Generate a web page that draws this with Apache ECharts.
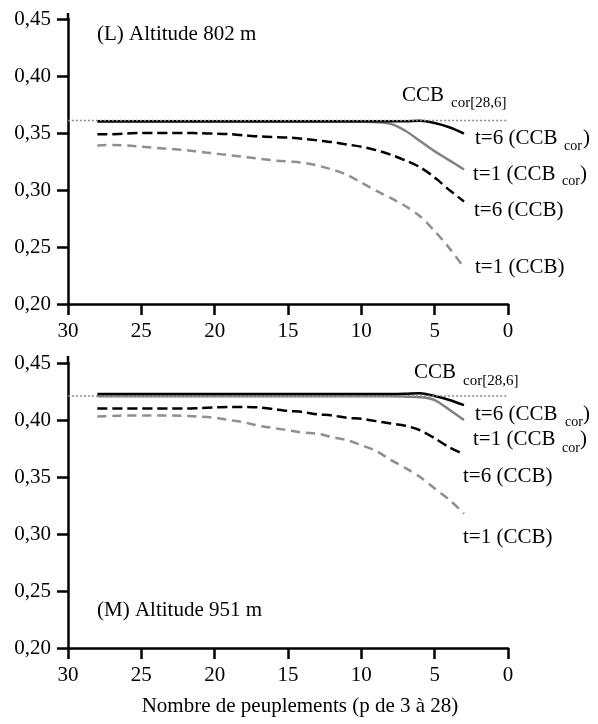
<!DOCTYPE html>
<html>
<head>
<meta charset="utf-8">
<script src="https://cdn.jsdelivr.net/npm/echarts@6/dist/echarts.min.js"></script>
<style>html,body{margin:0;padding:0;background:#fff;}#c{width:598px;height:724px;}</style>
</head>
<body>
<div id="c"></div>
<script>
// Number of stands p (x values)
var pVals = [28,27,26,25,24,23,22,21,20,19,18,17,16,15,14,13,12,11,10,9,8,7,6,5,4,3];
var xTicks = [30,25,20,15,10,5,0];
var yTicks = [0.20,0.25,0.30,0.35,0.40,0.45];

// Reference line CCB cor[28,6]
var refX = [30, 0];
var refTopVals = [0.361, 0.361];
var refBotVals = [0.421, 0.421];

// Panel L : Altitude 802 m
var topT6Cor = [0.3603,0.3603,0.3603,0.3603,0.3603,0.3603,0.3603,0.3603,0.3603,0.3603,0.3603,0.3603,0.3603,0.3603,0.3603,0.3603,0.3603,0.3603,0.3603,0.3603,0.3603,0.3603,0.3608,0.3588,0.355,0.3495];
var topT1Cor = [0.3598,0.3598,0.3598,0.3598,0.3598,0.3598,0.3598,0.3598,0.3598,0.3598,0.3598,0.3598,0.3598,0.3598,0.3598,0.3598,0.3598,0.3598,0.3598,0.3595,0.358,0.352,0.343,0.334,0.326,0.318];
var topT6 = [0.349,0.349,0.3495,0.350,0.350,0.350,0.350,0.3498,0.3495,0.349,0.348,0.347,0.3465,0.346,0.345,0.3435,0.342,0.340,0.338,0.335,0.331,0.326,0.320,0.311,0.300,0.290];
var topT1 = [0.339,0.3395,0.339,0.338,0.337,0.336,0.335,0.3335,0.332,0.3305,0.329,0.3275,0.326,0.325,0.324,0.3215,0.318,0.3135,0.3065,0.2995,0.293,0.286,0.277,0.264,0.249,0.232];

// Panel M : Altitude 951 m
var botT6Cor = [0.4228,0.4228,0.4228,0.4228,0.4228,0.4228,0.4228,0.4228,0.4228,0.4228,0.4228,0.4228,0.4228,0.4228,0.4228,0.4228,0.4228,0.4228,0.4228,0.4228,0.4228,0.4230,0.4235,0.421,0.4175,0.413];
var botT1Cor = [0.4208,0.4208,0.4208,0.4208,0.4208,0.4208,0.4208,0.4208,0.4208,0.4208,0.4208,0.4208,0.4208,0.4208,0.4208,0.4208,0.4208,0.4208,0.4208,0.4208,0.4208,0.4205,0.420,0.4175,0.409,0.400];
var botT6 = [0.410,0.410,0.410,0.410,0.410,0.410,0.410,0.4105,0.411,0.4115,0.4115,0.411,0.4095,0.408,0.407,0.405,0.404,0.402,0.401,0.399,0.397,0.395,0.391,0.384,0.376,0.370];
var botT1 = [0.403,0.4035,0.404,0.404,0.404,0.404,0.4035,0.403,0.402,0.400,0.398,0.395,0.393,0.391,0.389,0.388,0.385,0.3825,0.378,0.373,0.365,0.358,0.350,0.340,0.330,0.318];

var FONT = 'Liberation Serif';

function pairs(xs, ys){ return xs.map(function(x,i){ return [x, ys[i]]; }); }

function xAxisDef(gi){
  return {
    type:'value', gridIndex:gi, min:xTicks[xTicks.length-1], max:xTicks[0], interval:5, inverse:true,
    axisLine:{show:true, onZero:false, lineStyle:{color:'#000', width:2.5}},
    axisTick:{show:true, inside:false, length:11, lineStyle:{color:'#000', width:2.5}},
    axisLabel:{show:true, margin:17, color:'#000', fontFamily:FONT, fontSize:21},
    splitLine:{show:false}
  };
}
function yAxisDef(gi){
  return {
    type:'value', gridIndex:gi, min:yTicks[0], max:yTicks[yTicks.length-1], interval:0.05,
    axisLine:{show:true, onZero:false, lineStyle:{color:'#000', width:2.5}},
    axisTick:{show:true, inside:false, length:11, lineStyle:{color:'#000', width:2.5}},
    axisLabel:{show:true, margin:17, color:'#000', fontFamily:FONT, fontSize:21,
      formatter:function(v){ return v.toFixed(2).replace('.', ','); }},
    splitLine:{show:false}
  };
}
function lineSeries(gi, xs, ys, color, type, width, z){
  return {
    type:'line', xAxisIndex:gi, yAxisIndex:gi, data:pairs(xs, ys),
    symbol:'none', showSymbol:false, smooth:0.3, z:z,
    lineStyle:{color:color, type:type, width:width, cap:'butt'},
    silent:true
  };
}
function t(x, y, s, size){
  return {type:'text', x:x, y:y, style:{text:s, fill:'#000', fontFamily:FONT, fontSize:size||21, verticalAlign:'middle', align:'left'}, silent:true};
}
function axisExt(y1, y2){
  return {type:'line', shape:{x1:68, y1:y1, x2:68, y2:y2}, style:{stroke:'#000', lineWidth:2.5}, silent:true};
}

var chart = echarts.init(document.getElementById('c'), null, {renderer:'canvas', width:598, height:724});
chart.setOption({
  animation:false,
  backgroundColor:'#fff',
  grid:[
    {left:68, top:19, width:440, height:285, containLabel:false},
    {left:68, top:363, width:440, height:285, containLabel:false}
  ],
  xAxis:[xAxisDef(0), xAxisDef(1)],
  yAxis:[yAxisDef(0), yAxisDef(1)],
  series:[
    lineSeries(0, pVals, topT1, '#8f8f8f', [9,6], 2.5, 2),
    lineSeries(0, pVals, topT6, '#000', [10,5], 2.5, 3),
    lineSeries(0, pVals, topT1Cor, '#808080', 'solid', 2.5, 4),
    lineSeries(0, pVals, topT6Cor, '#000', 'solid', 2.5, 5),
    lineSeries(0, refX, refTopVals, '#888', [2,2], 1.5, 6),
    lineSeries(1, pVals, botT1, '#8f8f8f', [9,6], 2.5, 2),
    lineSeries(1, pVals, botT6, '#000', [10,5], 2.5, 3),
    lineSeries(1, pVals, botT1Cor, '#808080', 'solid', 2.5, 4),
    lineSeries(1, pVals, botT6Cor, '#000', 'solid', 2.5, 5),
    lineSeries(1, refX, refBotVals, '#888', [2,2], 1.5, 6)
  ],
  graphic:[
    axisExt(13, 20),
    axisExt(356, 364),
    t(97, 34, '(L) Altitude 802 m'),
    t(402, 95, 'CCB'),
    t(451, 103, 'cor[28,6]', 15),
    t(475, 138, 't=6 (CCB'),
    t(564, 146, 'cor', 14),
    t(583, 138, ')'),
    t(473, 174, 't=1 (CCB'),
    t(562, 181, 'cor', 14),
    t(580, 174, ')'),
    t(474, 210, 't=6 (CCB)'),
    t(475, 267, 't=1 (CCB)'),

    t(97, 610, '(M) Altitude 951 m'),
    t(414, 372, 'CCB'),
    t(463, 381, 'cor[28,6]', 15),
    t(475, 414, 't=6 (CCB'),
    t(565, 422, 'cor', 14),
    t(583, 414, ')'),
    t(473, 439, 't=1 (CCB'),
    t(562, 448, 'cor', 14),
    t(580, 439, ')'),
    t(463, 476, 't=6 (CCB)'),
    t(463, 537, 't=1 (CCB)'),

    {type:'text', x:300, y:706, style:{text:'Nombre de peuplements (p de 3 à 28)', fill:'#000', fontFamily:FONT, fontSize:21, verticalAlign:'middle', align:'center'}, silent:true}
  ]
});
</script>
</body>
</html>
